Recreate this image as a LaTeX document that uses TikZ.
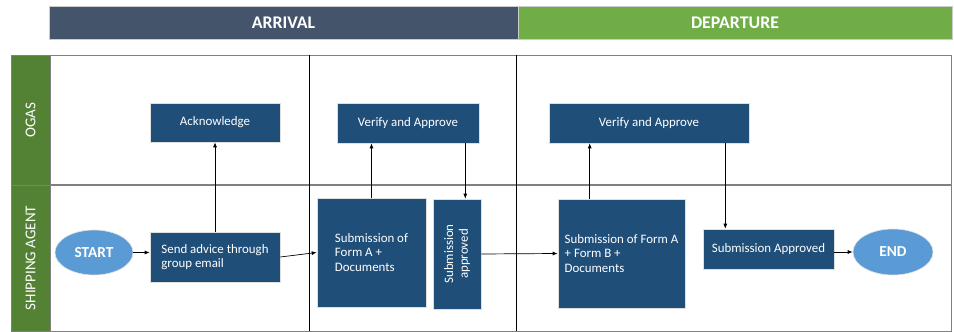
\documentclass[tikz,border=0pt]{standalone}
\usepackage{fontspec}
\setmainfont{Carlito}
\usetikzlibrary{arrows.meta,shapes.geometric}
\definecolor{arrhead}{HTML}{44546A}
\definecolor{dephead}{HTML}{70AD47}
\definecolor{lanegreen}{HTML}{548235}
\definecolor{stepblue}{HTML}{1F4E79}
\definecolor{ovalblue}{HTML}{5B9BD5}
\definecolor{laneline}{HTML}{808080}

\begin{document}
\begin{tikzpicture}[x=1pt,y=1pt,
		header/.style={draw=gray!40, fill=#1, text=white, minimum height=33pt, font=\fontsize{17.8}{19}\selectfont\bfseries},
		lanetag/.style={draw=laneline, line width=0.8pt, fill=lanegreen, text=white, rotate=90, minimum height=39pt, font=\fontsize{15}{17}\selectfont},
		stepbox/.style={draw=white!75!gray, line width=0.6pt, fill=stepblue, text=white, inner sep=0pt, align=left, font=\fontsize{12.9}{14.7}\selectfont},
		oval/.style={ellipse, draw=white!75!gray, line width=0.6pt, fill=ovalblue, text=white, inner sep=0pt, font=\fontsize{15.3}{17}\selectfont\bfseries},
		flow/.style={-{Latex[length=5pt,width=4pt]}, line width=0.7pt, black}]
			\useasboundingbox (0,0) rectangle (954,332);
			\node[header=arrhead, minimum width=469pt] (arrival) at (283.5,309.5) {ARRIVAL};
			\node[header=dephead, minimum width=434pt] (departure) at (735,309.5) {DEPARTURE};
			\node[lanetag, minimum width=130pt] (ogas) at (30.5,212) {OGAS};
			\node[lanetag, minimum width=146pt] (agent) at (30.5,74) {SHIPPING AGENT};
			\draw[laneline, line width=0.8pt] (50,277) rectangle (951,1);
			\draw[laneline, line width=1.2pt] (50,147) -- (951,147);
			\draw[line width=0.6pt] (309,277) -- (309,1);
			\draw[line width=0.6pt] (516,277) -- (516,1);
			\node[stepbox, minimum width=130pt, minimum height=39pt] (ack) at (215,209.5) {Acknowledge};
			\node[stepbox, minimum width=142pt, minimum height=40pt] (verA) at (408,209) {Verify and Approve};
			\node[stepbox, minimum width=200pt, minimum height=40pt] (verD) at (649,209) {Verify and Approve};
			\node[oval, minimum width=78pt, minimum height=45pt] (start) at (94,79.5) {START};
			\node[stepbox, minimum width=130pt, minimum height=50pt] (send) at (215,75) {Send advice through\\group email};
			\node[stepbox, minimum width=109pt, minimum height=109pt] (formA) at (371.5,79.5) {Submission of\\Form A +\\Documents};
			\node[stepbox, rotate=90, align=center, minimum width=110pt, minimum height=48pt] (subOk) at (457,78) {Submission\\approved};
			\node[stepbox, minimum width=127pt, minimum height=109pt] (formAB) at (621.5,78.5) {Submission of Form A\\+ Form B +\\Documents};
			\node[stepbox, minimum width=131pt, minimum height=40pt] (subDone) at (768.5,83) {Submission Approved};
			\node[oval, minimum width=80pt, minimum height=46pt] (end) at (893,80) {END};
			\coordinate (verAout) at ([xshift=-14pt]verA.south east);
			\coordinate (formABout) at ([xshift=32pt]formAB.north west);
			\coordinate (verDout) at ([xshift=-24pt]verD.south east);
			\draw[flow] (start.east) -- (start.east -| send.west);
			\draw[flow] (send.north) -- (ack.south);
			\draw[flow] (send.east) -- (formA.west);
			\draw[flow] (formA.north) -- (formA.north |- verA.south);
			\draw[flow] (verAout) -- (verAout |- subOk.east);
			\draw[flow] (subOk.south) -- (formAB.west);
			\draw[flow] (formABout) -- (formABout |- verD.south);
			\draw[flow] (verDout) -- (verDout |- subDone.north);
			\draw[flow] (end.west -| subDone.east) -- (end.west);
		\end{tikzpicture}
\end{document}
